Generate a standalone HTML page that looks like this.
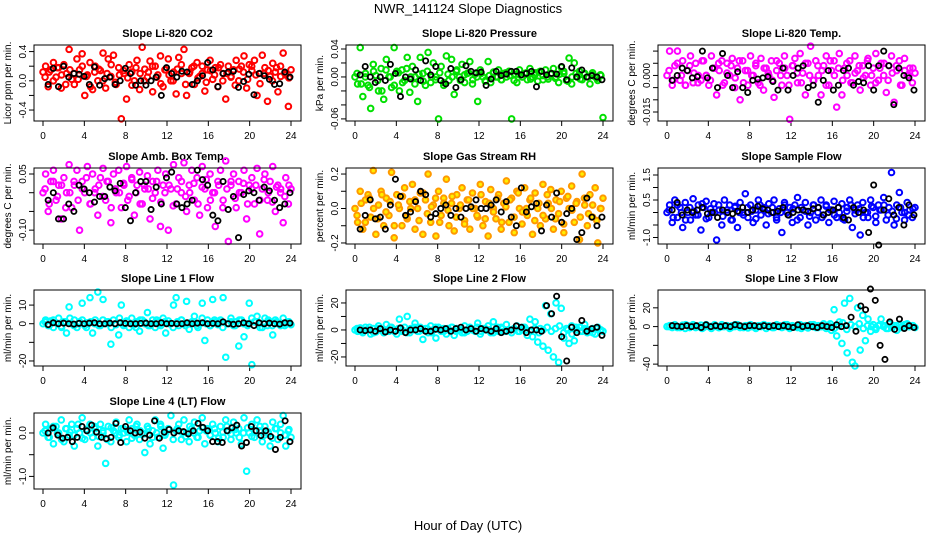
<!DOCTYPE html>
<html><head><meta charset="utf-8">
<style>
body{margin:0;background:#fff;}
svg{display:block;font-family:"Liberation Sans",sans-serif;}
</style></head>
<body>
<svg id="chart" width="936" height="540" viewBox="0 0 936 540" xmlns="http://www.w3.org/2000/svg">
<rect width="936" height="540" fill="#fff"/>
<text x="468" y="13" text-anchor="middle" font-size="13">NWR_141124  Slope Diagnostics</text>
<text x="468" y="530" text-anchor="middle" font-size="13">Hour of Day (UTC)</text>
</svg>
<script>
// ---- data arrays (values per panel) ----
const xTicks = [0,4,8,12,16,20,24];
const titles = ["Slope Li-820 CO2","Slope Li-820 Pressure","Slope Li-820 Temp.","Slope Amb. Box Temp.","Slope Gas Stream RH","Slope Sample Flow","Slope Line 1 Flow","Slope Line 2 Flow","Slope Line 3 Flow","Slope Line 4 (LT) Flow"];
const yLabels = ["Licor ppm per min.","kPa per min.","degrees C per min.","degrees C per min.","percent per min.","ml/min per min.","ml/min per min.","ml/min per min.","ml/min per min.","ml/min per min."];
const yTicks1 = [-0.4,-0.2,0,0.2,0.4];
const yTicks2 = [-0.06,-0.04,-0.02,0,0.02,0.04];
const yTicks3 = [-0.015,-0.01,-0.005,0,0.005,0.01];
const yTicks4 = [-0.1,-0.05,0,0.05];
const yTicks5 = [-0.2,-0.1,0,0.1,0.2];
const yTicks6 = [-1,-0.5,0,0.5,1,1.5];
const yTicks7 = [-20,-10,0,10];
const yTicks8 = [-20,-10,0,10,20];
const yTicks9 = [-40,-20,0,20];
const yTicks10 = [-1,-0.5,0];
const yTickLabels1 = ["-0.4","","0.0","","0.4"];
const yTickLabels2 = ["-0.06","","","0.00","","0.04"];
const yTickLabels3 = ["-0.015","","","0.000","",""];
const yTickLabels4 = ["-0.10","","","0.05"];
const yTickLabels5 = ["-0.2","","0.0","","0.2"];
const yTickLabels6 = ["-1.0","","","0.5","","1.5"];
const yTickLabels7 = ["-20","","0","10"];
const yTickLabels8 = ["-20","","0","","20"];
const yTickLabels9 = ["-40","","0","20"];
const yTickLabels10 = ["-1.0","","0.0"];
const yDomains = [[-0.55,0.49],[-0.063,0.0457],[-0.0187,0.0125],[-0.137,0.066],[-0.206,0.235],[-1.26,1.78],[-22.7,18.1],[-26.7,29.6],[-42,39],[-1.29,0.46]];
const colors = ["#ff0000","#00e000","#ff00ff","#ff00ff","#ff9900","#0000ff","#00ffff","#00ffff","#00ffff","#00ffff"];

const co2 = [0.12,0.2,-0.08,0.15,0.25,0.05,0.18,-0.1,0.22,0.1,0.43,0.02,-0.05,0.3,0.15,0.37,-0.2,0.08,0.25,-0.12,
0.2,0.0,0.14,0.38,-0.1,0.3,0.06,0.35,-0.05,0.18,-0.52,0.1,-0.25,0.22,0.12,0.0,0.28,-0.12,0.46,0.16,
0.05,0.27,-0.15,0.2,0.08,0.34,-0.08,0.15,0.3,0.0,0.12,-0.18,0.32,0.22,0.43,-0.2,0.1,0.18,-0.05,0.25,
0.06,0.2,-0.14,0.15,0.28,0.02,0.18,-0.08,0.22,0.1,-0.25,0.2,0.05,0.15,0.28,0.0,0.2,0.34,-0.1,0.22,
0.14,0.28,-0.2,0.1,0.35,0.18,-0.28,0.06,0.24,0.12,-0.15,0.2,0.38,0.08,-0.35,0.15];
const co2Core = [0.05,0.12,0.0,0.18,0.08,-0.05,0.15,0.1,0.02,0.2,0.06,-0.08,0.12,0.16,0.0,0.1,0.22,-0.02,0.08,0.14,0.04,-0.06,0.18,0.1,0.0,0.12,0.2,0.05,-0.04,0.15,
0.08,0.0,0.16,0.1,-0.05,0.12,0.2,0.04,0.1,-0.02,0.14,0.08,0.18,0.0,0.1,0.06,-0.06,0.16,0.12,0.02,0.2,0.08,-0.04,0.1,0.14,0.0,0.18,0.06,0.1,0.04];
const co2Black = [-0.05,0.17,-0.08,0.2,0.05,0.1,0.09,0.06,-0.05,0.19,-0.06,0.03,0.05,-0.05,0.0,0.17,0.1,-0.06,0.0,-0.06,0.0,0.05,-0.2,0.18,0.1,0.05,0.13,0.12,-0.05,0.0,0.07,0.25,0.15,-0.08,0.1,0.12,0.13,-0.09,-0.01,0.09,-0.19,0.1,0.07,0.02,-0.05,-0.04,0.12,0.05];

const press = [0.0,-0.01,0.042,-0.028,0.005,-0.012,-0.045,0.018,0.002,-0.02,0.012,-0.032,0.025,0.0,-0.015,0.042,0.008,-0.02,0.01,-0.005,
0.028,-0.022,0.015,0.0,-0.035,0.028,0.005,-0.012,0.035,-0.008,0.02,0.0,-0.06,0.015,-0.012,0.03,-0.005,0.025,-0.025,0.01,
0.0,0.018,-0.008,0.005,0.022,-0.01,0.004,-0.035,0.01,0.0,-0.005,0.022,-0.008,0.006,0.0,0.01,-0.004,0.005,0.0,0.008,
-0.06,0.004,-0.008,0.01,0.0,0.005,-0.004,0.012,0.0,0.006,-0.006,0.008,0.002,0.01,-0.003,0.004,0.012,0.0,-0.008,0.014,
0.005,-0.005,0.027,-0.01,0.02,0.0,0.008,-0.004,0.005,0.0,-0.01,0.006,0.0,-0.005,0.003,-0.058];
const pressCore = [0.005,-0.01,0.0,-0.015,0.008,-0.005,-0.02,0.01,0.0,-0.012,0.006,-0.008,0.012,0.0,-0.01,0.004,-0.006,0.008,0.0,-0.004,0.006,-0.008,0.004,0.0,0.008,-0.005,0.003,0.006,-0.004,0.0,
0.005,-0.006,0.002,0.007,0.0,-0.004,0.006,0.002,-0.005,0.004,0.0,0.006,-0.003,0.003,0.007,-0.004,0.0,0.005,-0.002,0.004,0.008,-0.006,0.0,0.005,-0.003,0.004,0.0,0.003,-0.002,0.002];
const pressBlack = [0.003,0.015,0.0,-0.008,0.0,-0.005,0.018,0.005,-0.028,0.0,-0.003,0.01,-0.005,0.023,0.003,0.015,-0.005,-0.01,0.012,-0.015,-0.004,0.016,0.008,0.006,0.007,-0.012,-0.003,0.008,0.002,0.004,0.008,0.008,0.003,0.005,0.008,-0.014,0.008,0.003,0.005,0.004,0.015,-0.004,0.013,0.0,0.01,0.0,0.002,0.0,-0.004];

const temp = [0.0,0.01,-0.004,0.004,0.01,-0.002,0.006,-0.004,0.002,0.008,-0.003,0.005,0.0,-0.002,0.006,0.0,-0.004,0.008,0.003,-0.008,
0.002,0.006,-0.003,0.005,0.0,0.007,-0.005,0.003,-0.01,0.006,0.002,-0.004,0.008,0.0,0.004,-0.003,0.007,-0.006,0.003,0.0,
0.006,-0.009,0.002,0.005,-0.004,0.008,0.0,-0.018,0.004,0.007,-0.003,0.009,0.001,-0.008,0.005,0.012,-0.002,0.006,0.0,-0.008,
0.004,0.008,-0.004,0.002,0.006,-0.013,0.009,-0.008,0.003,0.0,0.006,-0.003,0.008,0.002,-0.006,0.004,0.0,0.007,-0.004,0.003,
0.009,-0.002,0.005,0.0,-0.007,0.004,0.008,-0.011,0.002,0.006,-0.004,0.007,0.0,0.003,-0.003,0.001];
const tempCore = [0.002,-0.002,0.005,0.0,-0.004,0.004,0.001,-0.003,0.006,0.0,-0.002,0.003,0.005,-0.004,0.001,0.004,-0.001,0.006,-0.003,0.002,0.0,0.005,-0.004,0.003,0.001,-0.002,0.006,0.0,0.003,-0.004,
0.004,0.001,-0.003,0.005,0.0,-0.002,0.004,0.002,-0.004,0.006,0.0,0.003,-0.002,0.005,-0.003,0.001,0.004,-0.001,0.006,0.0,-0.003,0.003,0.005,-0.002,0.001,0.004,-0.004,0.002,0.0,0.003];
const tempBlack = [-0.002,0.0,0.003,0.002,-0.001,-0.0005,0.01,-0.001,0.003,-0.005,0.009,0.0,-0.005,0.0015,-0.005,-0.007,-0.002,-0.0015,-0.001,-0.0005,-0.0025,-0.006,0.003,-0.006,0.0,0.003,0.004,-0.005,-0.004,-0.011,-0.002,0.002,-0.006,-0.004,0.002,0.003,-0.004,-0.0025,-0.003,0.004,-0.006,0.004,0.01,0.004,-0.012,0.003,0.0,-0.001,-0.006];

const amb = [0.0,0.05,-0.05,0.03,0.06,-0.02,0.02,-0.07,0.04,0.0,0.075,-0.04,0.02,0.06,-0.1,0.03,0.0,0.07,-0.03,0.05,
0.01,-0.06,0.04,0.065,-0.02,0.03,-0.08,0.05,0.0,0.06,-0.04,0.02,0.07,-0.01,0.04,-0.06,0.02,0.055,-0.03,0.01,
0.045,-0.07,0.03,0.0,0.06,-0.09,0.02,0.05,-0.1,0.01,0.075,-0.03,0.04,0.0,0.08,-0.05,0.02,0.06,-0.02,0.04,
-0.06,0.07,0.01,-0.04,0.05,0.0,-0.09,0.03,0.06,-0.02,0.085,-0.13,0.02,0.05,-0.04,0.03,0.0,0.06,-0.07,0.02,
0.04,-0.03,0.065,-0.11,0.01,0.05,-0.02,0.03,0.07,-0.05,0.02,0.0,-0.08,0.04,-0.03,0.01];
const ambCore = [0.01,-0.03,0.03,-0.01,0.02,-0.04,0.0,0.03,-0.02,0.01,0.04,-0.03,0.0,0.02,-0.01,0.03,-0.04,0.01,0.0,0.025,-0.02,0.035,0.0,-0.03,0.02,0.01,-0.015,0.03,-0.025,0.0,
0.02,-0.035,0.01,0.03,-0.01,0.0,0.025,-0.03,0.015,0.035,-0.02,0.0,0.02,-0.04,0.01,0.03,-0.015,0.0,0.025,-0.03,0.01,0.02,-0.02,0.035,0.0,-0.025,0.015,0.01,-0.01,0.02];
const ambBlack = [-0.02,0.0,-0.07,-0.07,-0.03,-0.05,0.02,0.01,0.0,-0.025,-0.01,-0.01,0.015,0.005,0.025,-0.04,-0.075,0.0,0.03,0.03,-0.045,0.015,-0.03,0.04,0.055,-0.03,-0.04,-0.03,-0.02,0.06,0.035,0.02,-0.06,-0.075,0.03,-0.045,-0.01,-0.12,-0.005,0.005,0.0,-0.02,0.015,0.005,-0.02,-0.04,-0.03,0.0];

const rh = [0.0,-0.08,0.1,-0.12,0.05,0.08,-0.05,0.22,-0.15,0.02,0.1,-0.1,0.06,-0.04,0.21,-0.17,0.08,0.0,-0.1,0.12,
-0.06,0.04,0.14,-0.12,0.0,0.09,-0.15,0.05,0.2,-0.08,0.02,-0.16,0.1,-0.04,0.06,0.17,-0.1,0.03,-0.13,0.08,
0.0,0.12,-0.07,0.05,-0.12,0.09,0.0,-0.05,0.14,-0.1,0.04,-0.16,0.11,0.0,-0.06,0.08,-0.12,0.03,0.16,-0.08,
0.06,-0.14,0.1,0.0,-0.09,0.12,-0.04,0.05,-0.15,0.09,0.0,-0.1,0.14,-0.06,0.03,0.11,-0.12,0.05,-0.03,0.1,
-0.14,0.06,0.0,0.13,-0.08,0.04,-0.18,0.2,0.02,-0.1,0.08,-0.05,0.12,-0.2,0.0,0.06];
const rhCore = [-0.04,0.03,-0.08,0.06,0.0,-0.06,0.08,-0.02,0.04,-0.1,0.02,0.07,-0.05,0.0,0.05,-0.07,0.09,-0.03,0.01,0.06,-0.08,0.03,-0.01,0.07,-0.05,0.02,-0.09,0.05,0.0,-0.04,
0.08,-0.06,0.03,-0.02,0.06,-0.08,0.01,0.05,-0.05,0.09,-0.02,0.0,0.06,-0.07,0.03,-0.04,0.08,0.0,-0.06,0.04,-0.09,0.07,-0.01,0.03,-0.05,0.06,-0.03,0.02,-0.07,0.0];
const rhBlack = [-0.12,-0.04,0.05,-0.06,-0.05,-0.12,0.02,0.17,0.07,-0.04,-0.02,0.04,0.1,0.08,-0.05,-0.03,0.0,0.02,-0.04,0.0,-0.05,0.0,0.01,0.05,0.0,0.0,0.02,0.05,-0.02,0.04,-0.05,-0.1,0.12,-0.02,0.01,0.03,-0.13,0.02,-0.05,0.09,-0.08,-0.03,0.0,-0.18,-0.14,0.06,-0.05,-0.1,-0.05];

const sflow = [0.0,0.3,-0.4,0.5,-0.2,0.2,-0.6,0.4,0.0,-0.3,0.55,-0.1,0.3,-0.7,0.2,0.45,-0.2,0.0,0.35,-1.1,
0.1,-0.5,0.5,0.0,0.3,-0.3,0.2,-0.6,0.4,0.0,0.75,-0.2,0.3,-0.4,0.1,0.5,-0.1,0.2,-0.5,0.35,
0.0,0.5,-0.3,0.15,-0.8,0.4,0.0,0.2,-0.4,0.3,0.6,-0.2,0.1,0.4,-0.5,0.0,0.3,-0.3,0.2,0.5,
-0.1,0.3,-0.4,0.1,0.45,-0.2,0.0,0.35,-0.3,0.2,0.5,-0.6,0.1,0.3,-0.9,0.4,0.0,-0.2,0.5,0.2,
-0.4,0.3,0.1,0.6,-0.3,0.2,1.6,-0.5,0.3,0.8,0.0,-0.3,0.4,0.1,-0.2,0.2];
const sflowCore = [0.1,-0.2,0.3,0.0,-0.3,0.2,0.05,-0.1,0.35,-0.25,0.15,0.0,0.3,-0.15,0.1,-0.3,0.25,0.0,-0.1,0.2,0.05,-0.25,0.3,0.1,-0.05,0.2,-0.2,0.0,0.3,-0.1,
0.15,-0.3,0.2,0.05,-0.15,0.3,0.0,-0.2,0.25,0.1,-0.1,0.2,-0.25,0.05,0.3,-0.05,0.15,-0.2,0.0,0.25,-0.15,0.1,0.3,-0.1,0.05,-0.25,0.2,0.0,-0.1,0.15];
const sflowBlack = [0.1,0.4,-0.1,0.1,0.0,0.1,0.2,-0.05,0.0,-0.2,0.1,0.0,-0.05,0.05,0.2,0.0,0.1,0.25,0.15,0.1,0.0,0.05,0.2,-0.1,0.0,0.1,0.1,0.05,0.15,0.2,-0.1,0.0,0.1,0.2,-0.2,-0.3,0.2,0.0,0.1,-0.8,1.1,-1.3,0.1,0.55,-0.1,0.2,-0.5,0.3,-0.1];

const l1 = [0.0,2,-1,1.5,-2,0.5,3,-1.5,1,-5,9,0,2,-2,1,11,-1,0.5,14,-5,
2,17,-1,13,0,1,-11,2,-0.5,-6,10,0,1.5,-2,3,-0.5,1,-4,2,0,
6,-1,2,-2,1,0,3,-5,1.5,0,10,14,-1,2,0,12,-3,1,4,-1,
0,11,-9,2,-1,13,1,-0.5,2,14,-18,0,3,-1,1,-12,2,-7,0,11,
-22,1,4,0,-2,3,-1,1,-6,2,0,-1,3,0,1,-0.5];
const l1Core = [1,-1,2,0,-2,1,3,-1,0,2,-2,1,0,-1,2,1,-2,0,3,-1,1,0,-2,2,1,-1,0,2,-1,1,
0,-2,1,2,-1,0,1,-2,3,0,-1,2,1,-2,0,1,-1,2,0,-1,3,1,-2,0,2,-1,1,0,-1,1];
const l1Black = [-0.5,0.5,0,0.3,0,-0.2,0.2,0,0.3,0.5,0,0,0.3,0,0.5,0.2,0,0,0.2,0.3,0,0,0.5,0,0.2,0,0,0.5,0,0.3,0.5,0,0.2,0,1,0,-0.3,0,0.5,0,-1,0.5,0,0.3,0,-0.2,0.5,0.3];

const l2 = [0,-1,1.5,-2,2,0,-3,1,-1.5,3,0,-2,4,-1,2,0,-3,8,-1,2,
10,-2,0,5,-1,2,-7,1,-2,3,0,-6,2,-1,1,-3,0,2,-4,1,
0,-2,3,-1,2,0,-1,5,-3,1,0,3,-2,6,0,-1,2,-1,4,0,
-2,1,3,-1,0,2,-4,8,-5,6,-9,1,-12,18,-15,12,-20,20,-24,16,
-6,1,-10,3,-8,0,2,-1,4,-2,0,1,-3,2,0,-1];
const l2Core = [1,-1,0,2,-2,1,0,-1,2,-1,1,0,-2,1,2,-1,0,1,-2,2,0,-1,1,2,-1,0,-2,1,0,2,
-1,1,0,-2,2,1,-1,0,1,-1,2,0,-1,1,-2,0,2,-1,1,3,-2,0,-3,2,-1,1,0,-2,1,0];
const l2Black = [0,-0.5,0,-1,1,-1.5,0,-1,1.5,-2,0,0,1,-1,-1,0.5,0,1,-1,1,2,0,1,-1,1,0,-1,1,-2,-1,0,3,2,-2,0,0,-1,18,12,25,-5,-23,2,-2,7,-1,1,2,-4];

const l3 = [0,1,-1,2,0,-1,1.5,-2,1,0,2,-1,0,1.5,-1,2,0,-2,1,0,
-1,2,0,1,-2,1,0,2,-1,0,1,-1.5,2,0,-1,1,0,2,-2,1,
0,-1,2,1,-1,0,2,-2,1,0,-1,2,0,1,-1.5,2,0,-1,1,0,
3,-2,1,-4,18,-10,5,-18,25,-28,30,-38,-42,20,-25,12,-15,8,-5,2,
-3,1,8,0,-2,3,-1,1,-4,2,0,-1,3,0,1,-1];
const l3Core = [0,1,-1,0,2,-1,1,0,-2,1,0,2,-1,0,1,-1,2,0,-1,1,0,-2,1,2,0,-1,1,0,2,-1,
0,1,-2,1,0,2,-1,0,1,3,-2,1,4,-3,2,0,3,-2,1,0,-1,2,1,-2,0,1,-1,2,0,1];
const l3Black = [1,0.5,0,1,0,1,-1,2,0,1,0,1,0,2,1,0,1,1,0,1,0,1,0,1,0,-1,2,0,1,0,-1,1,0,-1,2,0,1,10,-5,22,18,40,28,-20,-35,5,-3,8,-2,1,-1];

const l4 = [0.0,0.2,-0.1,0.1,-0.25,0.15,0.0,0.3,-0.2,0.1,-0.05,0.2,-0.3,0.1,0.0,0.35,-0.15,0.05,0.2,-0.1,
0.1,-0.3,0.2,0.0,-0.7,0.15,-0.2,0.05,0.25,-0.1,0.1,0.0,-0.2,0.3,0.1,-0.05,0.2,-0.15,0.0,-0.45,
0.15,-0.25,0.05,0.3,-0.1,0.2,-0.35,0.0,0.1,0.4,-1.2,0.05,0.2,-0.15,0.3,0.0,-0.2,0.1,0.25,-0.1,
0.05,0.35,-0.25,0.1,-0.05,0.2,0.0,-0.2,0.15,-0.1,0.3,0.05,-0.15,0.25,0.0,0.1,-0.25,0.35,-0.88,0.0,
0.2,-0.1,0.3,0.05,-0.2,0.15,0.0,-0.3,0.25,0.1,-0.15,0.2,0.4,-0.3,0.05,-0.1];
const l4Core = [0.05,-0.1,0.15,0.0,-0.15,0.1,0.02,-0.05,0.2,-0.12,0.08,0.0,0.15,-0.08,0.05,-0.15,0.12,0.0,-0.05,0.1,0.02,-0.12,0.15,0.05,-0.02,0.1,-0.1,0.0,0.15,-0.05,
0.08,-0.15,0.1,0.02,-0.08,0.15,0.0,-0.1,0.12,0.05,-0.05,0.1,-0.12,0.02,0.15,-0.02,0.08,-0.1,0.0,0.12,-0.08,0.05,0.15,-0.05,0.02,-0.12,0.1,0.0,-0.05,0.08];
const l4Black = [0.0,0.12,-0.05,-0.12,-0.1,-0.2,-0.1,0.15,0.05,0.18,0.02,-0.1,-0.13,-0.1,0.22,-0.22,0.15,0.05,0.0,0.02,-0.12,-0.05,0.28,-0.12,0.02,0.08,0.0,0.05,0.03,-0.02,0.05,0.22,0.13,0.05,-0.2,-0.2,-0.22,0.05,0.12,0.18,-0.3,-0.22,0.15,0.05,-0.06,0.05,-0.08,-0.38,-0.1,0.28,-0.2];

const series = [co2,press,temp,amb,rh,sflow,l1,l2,l3,l4];
const coreSeries = [co2Core,pressCore,tempCore,ambCore,rhCore,sflowCore,l1Core,l2Core,l3Core,l4Core];
const blackSeries = [co2Black,pressBlack,tempBlack,ambBlack,rhBlack,sflowBlack,l1Black,l2Black,l3Black,l4Black];
const yTickSets = [yTicks1,yTicks2,yTicks3,yTicks4,yTicks5,yTicks6,yTicks7,yTicks8,yTicks9,yTicks10];
const yTickLabelSets = [yTickLabels1,yTickLabels2,yTickLabels3,yTickLabels4,yTickLabels5,yTickLabels6,yTickLabels7,yTickLabels8,yTickLabels9,yTickLabels10];

// ---- drawing ----
const NS = "http://www.w3.org/2000/svg";
const svg = document.getElementById('chart');
const colLeft = [34,346,658], rowTop = [45,168,290,413];
const W = 267, H = 76;
function mk(tag, attrs, parent){
  const e = document.createElementNS(NS, tag);
  for (const k in attrs) e.setAttribute(k, attrs[k]);
  (parent||svg).appendChild(e);
  return e;
}
series.forEach((vals, p) => {
  const L = colLeft[p % 3], T = rowTop[Math.floor(p / 3)];
  const dom = yDomains[p];
  const xs = h => L + 9 + h * 248 / 24;
  const ys = v => T + H - (v - dom[0]) / (dom[1] - dom[0]) * H;
  const g = mk('g', {});
  
  
  const t = mk('text', {x: L + W / 2, y: T - 8, 'text-anchor': 'middle', 'font-size': 11, 'font-weight': 'bold'}, g);
  
  
  t.textContent = titles[p];
  const yl = mk('text', {transform: `translate(${L - 23},${T + H / 2}) rotate(-90)`, 'text-anchor': 'middle', 'font-size': 10}, g);
  
  
  yl.textContent = yLabels[p];
  xTicks.forEach(h => {
    const x = xs(h);
    const tk = mk('line', {x1: x, x2: x, y1: T + H, y2: T + H + 5, stroke: '#000'}, g);
    
    
    const tl = mk('text', {x: x, y: T + H + 18, 'text-anchor': 'middle', 'font-size': 10}, g);
    
    
    tl.textContent = h;
  });
  yTickSets[p].forEach((v, i) => {
    const y = ys(v);
    const tk = mk('line', {x1: L - 5, x2: L, y1: y, y2: y, stroke: '#000'}, g);
    
    
    const lab = yTickLabelSets[p][i];
    if (lab) {
      const tl = mk('text', {transform: `translate(${L - 8},${y}) rotate(-90)`, 'text-anchor': 'middle', 'font-size': 10}, g);
      
      
      tl.textContent = lab;
    }
  });
  const fillCol = p === 4 ? '#ffee00' : 'none';
  const n = vals.length;
  vals.forEach((v, i) => {
    const c = mk('circle', {cx: xs(i * 24 / (n - 1)), cy: ys(v), r: 2.8, fill: fillCol, stroke: colors[p], 'stroke-width': 2}, g);
    
    
  });
  const cv = coreSeries[p], k = cv.length;
  cv.forEach((v, i) => {
    const c = mk('circle', {cx: xs(0.2 + i * 23.6 / (k - 1)), cy: ys(v), r: 2.8, fill: fillCol, stroke: colors[p], 'stroke-width': 2}, g);
    
    
  });
  const bv = blackSeries[p], m = bv.length;
  bv.forEach((v, i) => {
    const c = mk('circle', {cx: xs(0.5 + i * 23.4 / (m - 1)), cy: ys(v), r: 2.6, fill: 'none', stroke: '#000', 'stroke-width': 1.8}, g);
    
    
  });
  const box = mk('rect', {x: L, y: T, width: W, height: H, fill: 'none', stroke: '#000', 'stroke-width': 1}, g);
  
  
});
</script>
</body></html>
